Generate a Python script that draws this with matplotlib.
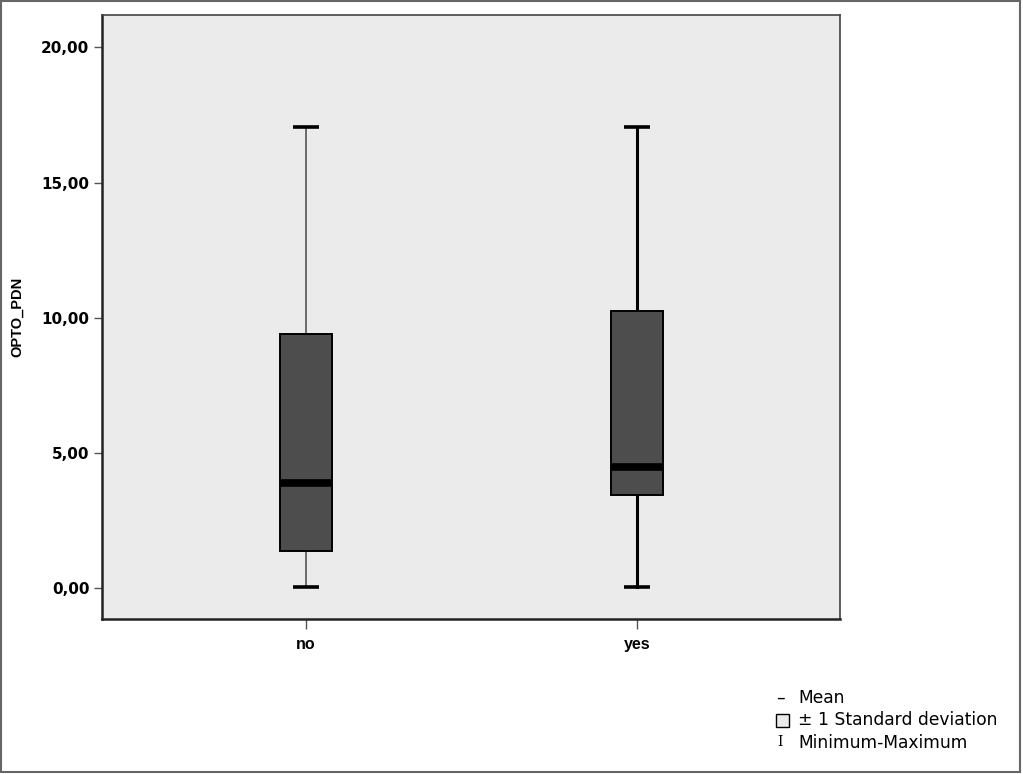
import matplotlib
matplotlib.use("Agg")
import matplotlib.pyplot as plt
from matplotlib.patches import Rectangle

categories = ["no", "yes"]
minimum = [0.05, 0.05]
maximum = [17.07, 17.07]
sd_low = [1.37, 3.44]
sd_high = [9.41, 10.26]
means = [3.89, 4.48]
yticks = [0, 5, 10, 15, 20]
ytick_labels = ["0,00", "5,00", "10,00", "15,00", "20,00"]

fig = plt.figure(figsize=(10.23, 7.74), dpi=100)
ax = fig.add_axes([102/1023, 1 - 619/774, (840-102)/1023, (619-15)/774])
ax.set_facecolor("#EBEBEB")

pos = list(range(len(categories)))
box_w = 0.158
cap_w = 0.078
whisk_colors = ["#6a6a6a", "#000000"]
whisk_lw = [1.4, 2.2]
for i, p in enumerate(pos):
    ax.plot([p, p], [minimum[i], sd_low[i]], color=whisk_colors[i], lw=whisk_lw[i], zorder=2)
    ax.plot([p, p], [sd_high[i], maximum[i]], color=whisk_colors[i], lw=whisk_lw[i], zorder=2)
    ax.plot([p - cap_w/2, p + cap_w/2], [minimum[i]]*2, color="black", lw=2.6, zorder=3, solid_capstyle="butt")
    ax.plot([p - cap_w/2, p + cap_w/2], [maximum[i]]*2, color="black", lw=2.6, zorder=3, solid_capstyle="butt")
    ax.add_patch(Rectangle((p - box_w/2, sd_low[i]), box_w, sd_high[i] - sd_low[i],
                           facecolor="#4D4D4D", edgecolor="black", lw=1.4, zorder=4))
    ax.plot([p - box_w/2 + 0.004, p + box_w/2 - 0.004], [means[i]]*2, color="black", lw=5.5,
            zorder=5, solid_capstyle="butt")

ax.set_xlim(-0.616, 1.613)
ax.set_ylim(-1.15, 21.2)
ax.set_yticks(yticks)
ax.set_yticklabels(ytick_labels, fontsize=11, fontweight="bold", family="DejaVu Sans")
ax.set_xticks(pos)
ax.set_xticklabels(categories, fontsize=11.5, fontweight="bold", family="Liberation Sans")
ax.tick_params(axis="y", direction="out", length=6, width=1, color="#555555", pad=3)
ax.tick_params(axis="x", direction="out", length=7, width=1, color="#555555", pad=6)
ax.set_ylabel("OPTO_PDN", fontsize=10.5, fontweight="bold", family="Liberation Sans", labelpad=12)
for s in ["left", "bottom"]:
    ax.spines[s].set_linewidth(1.8)
    ax.spines[s].set_color("#222222")
for s in ["top", "right"]:
    ax.spines[s].set_linewidth(1.2)
    ax.spines[s].set_color("#444444")

# legend text
fs = 12.3
fig.text(776/1023, 1 - 698/774, "–", fontsize=fs, va="center", family="DejaVu Sans")
fig.text(798/1023, 1 - 698/774, "Mean", fontsize=fs, va="center", family="DejaVu Sans")
fig.patches.append(Rectangle((776/1023, 1 - 727/774), 13/1023, 13/774, transform=fig.transFigure,
                             facecolor="#EBEBEB", edgecolor="black", lw=1))
fig.text(798/1023, 1 - 720/774, "± 1 Standard deviation", fontsize=fs, va="center", family="DejaVu Sans")
fig.text(777/1023, 1 - 742/774, "I", fontsize=10, va="center", family="DejaVu Serif")
fig.text(798/1023, 1 - 743/774, "Minimum-Maximum", fontsize=fs, va="center", family="DejaVu Sans")

# outer border
fig.patches.append(Rectangle((0.0005, 0.003), 0.997, 0.996, transform=fig.transFigure,
                             facecolor="none", edgecolor="#666666", lw=1.5))

fig.savefig("out.png", dpi=100)
